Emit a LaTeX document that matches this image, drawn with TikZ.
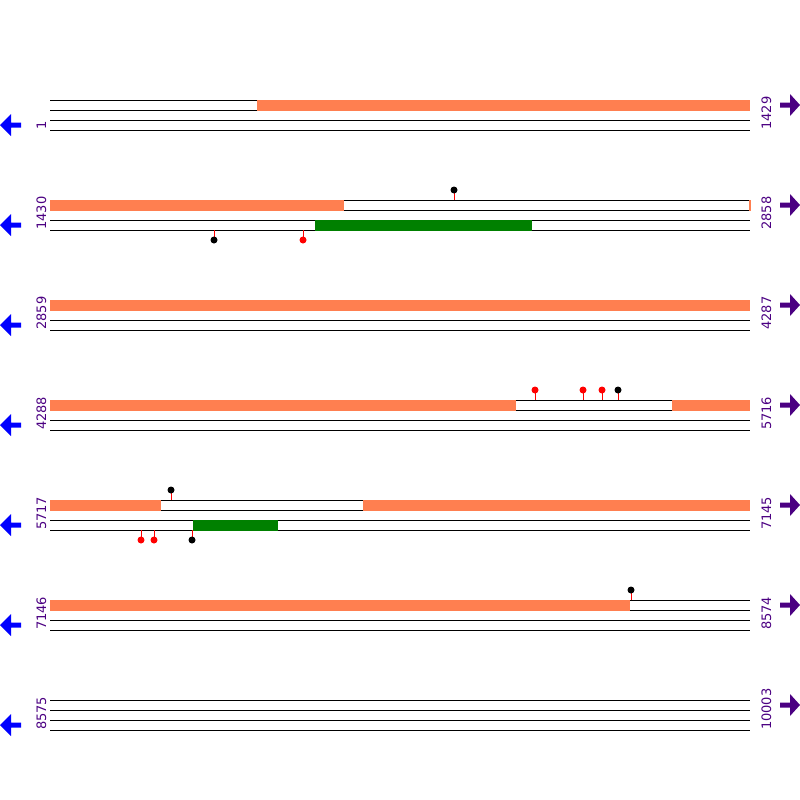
\documentclass[tikz,border=0pt]{standalone}
\usepackage{fontspec}
\setmainfont{DejaVu Sans}
\definecolor{coral}{RGB}{255,127,80}
\definecolor{dgreen}{RGB}{0,128,0}
\definecolor{indig}{RGB}{75,0,130}
\begin{document}
\begin{tikzpicture}[x=1pt,y=-1pt,
  strand/.style={draw=black,line width=1pt},
  orangebar/.style={fill=coral,draw=none},
  greenbar/.style={fill=dgreen,draw=none},
  stem/.style={draw=red,line width=1pt},
  numlabel/.style={rotate=90,anchor=base west,inner sep=0pt,text=indig,font=\fontsize{13}{13}\selectfont},
  larrow/.style={fill=blue,draw=none},
  rarrow/.style={fill=indig,draw=none}]
\useasboundingbox (0,0) rectangle (800,800);
% rows
\foreach \r/\a/\b in {0/1/1429,1/1430/2858,2/2859/4287,3/4288/5716,4/5717/7145,5/7146/8574,6/8575/10003}{
  \pgfmathsetmacro{\y}{100+100*\r}
  \foreach \k in {0,10,20,30}{
    \draw[strand] (50,\y+\k) -- (750,\y+\k);
  }
  \node[numlabel] (L\r) at (46,\y+30) {\a};
  \node[numlabel] (R\r) at (771,\y+30) {\b};
  \fill[larrow] (0,\y+25) -- (11,\y+14) -- (11,\y+22.5) -- (21,\y+22.5) -- (21,\y+27.5) -- (11,\y+27.5) -- (11,\y+36) -- cycle;
  \fill[rarrow] (800,\y+5) -- (790,\y-6) -- (790,\y+2.5) -- (780,\y+2.5) -- (780,\y+7.5) -- (790,\y+7.5) -- (790,\y+16) -- cycle;
}
% orange bars (top strand)
\fill[orangebar] (257,100) rectangle (750,110.5);
\fill[orangebar] (50,200) rectangle (344,210.5);
\fill[orangebar] (748.5,200) rectangle (750.5,210.5);
\fill[orangebar] (50,300) rectangle (750,310.5);
\fill[orangebar] (50,400) rectangle (516,410.5);
\fill[orangebar] (672,400) rectangle (750,410.5);
\fill[orangebar] (50,500) rectangle (161,510.5);
\fill[orangebar] (363,500) rectangle (750,510.5);
\fill[orangebar] (50,600) rectangle (630,610.5);
% green bars (bottom strand)
\fill[greenbar] (315,220) rectangle (532,230.5);
\fill[greenbar] (193,520) rectangle (278,530.5);
% lollipops above
\foreach \x/\yy/\c in {454/200/black,535/400/red,583/400/red,602/400/red,618/400/black,171/500/black,631/600/black}{
  \draw[stem] (\x,\yy) -- (\x,\yy-8);
  \fill[\c] (\x,\yy-10) circle (3.5);
}
% lollipops below
\foreach \x/\yy/\c in {214/230/black,303/230/red,141/530/red,154/530/red,192/530/black}{
  \draw[stem] (\x,\yy) -- (\x,\yy+8);
  \fill[\c] (\x,\yy+10) circle (3.5);
}
\end{tikzpicture}
\end{document}
